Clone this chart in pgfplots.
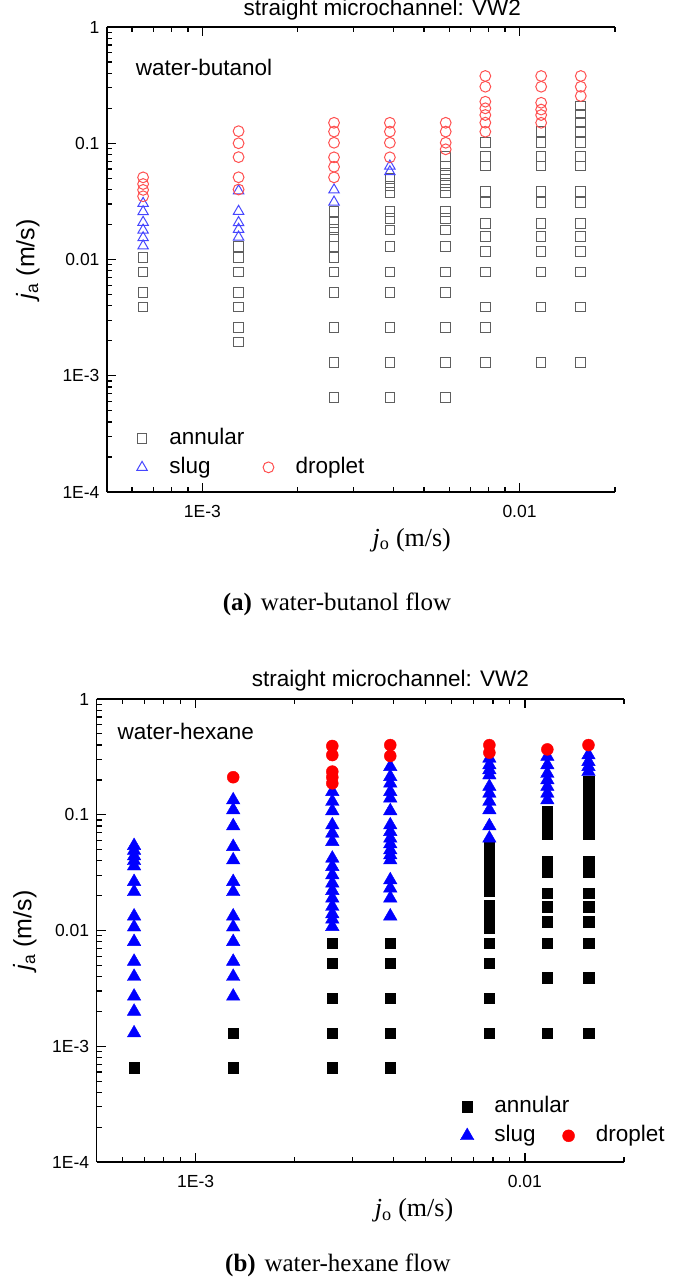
\documentclass[border=0pt]{standalone}
\usepackage{pgfplots}
\pgfplotsset{compat=1.18}
\usepackage{fontspec}
\setmainfont{Liberation Sans}
\newfontfamily\tnr{Liberation Serif}
\newcommand\labsize{\fontsize{22.5bp}{26bp}\selectfont}
\newcommand\ticksize{\fontsize{17.5bp}{20bp}\selectfont}
\newcommand\ylabsize{\fontsize{25bp}{29bp}\selectfont}
\newcommand\xlabsize{\fontsize{26bp}{30bp}\selectfont}
\newcommand\capsize{\fontsize{25bp}{29bp}\selectfont}
\definecolor{agray}{RGB}{95,95,95}
\definecolor{ablue}{RGB}{70,70,255}
\definecolor{ared}{RGB}{255,80,80}
\begin{document}
\begin{tikzpicture}
\useasboundingbox (0bp,0bp) rectangle (685bp,-1277bp);
% ---------------- panel (a)
\begin{axis}[at={(107bp,-492bp)}, anchor=south west, width=508bp, height=465bp,
  scale only axis, xmode=log, ymode=log,
  xmin=5e-4, xmax=0.02, ymin=1e-4, ymax=1,
  axis x line*=box, axis y line*=left,
  axis line style={line width=1.4bp,-},
  xtick={1e-3,1e-2}, xticklabels={1E-3,0.01},
  ytick={1e-4,1e-3,1e-2,1e-1,1}, yticklabels={1E-4,1E-3,0.01,0.1,1},
  minor xtick={5e-4,6e-4,7e-4,8e-4,9e-4,2e-3,3e-3,4e-3,5e-3,6e-3,7e-3,8e-3,9e-3,2e-2},
  minor ytick={2e-4,3e-4,4e-4,5e-4,6e-4,7e-4,8e-4,9e-4,2e-3,3e-3,4e-3,5e-3,6e-3,7e-3,8e-3,9e-3,2e-2,3e-2,4e-2,5e-2,6e-2,7e-2,8e-2,9e-2,0.2,0.3,0.4,0.5,0.6,0.7,0.8,0.9},
  tick align=inside, major tick length=9bp, minor tick length=5bp,
  tick style={black, line width=1.2bp},
  tick label style={font=\ticksize},
  yticklabel style={xshift=-4bp}, xticklabel style={yshift=-10bp},
  clip=false,
  legend columns=2, legend cell align=left,
  legend style={draw=none, fill=none, inner sep=0bp, font=\labsize,
    nodes={inner ysep=3bp, inner xsep=3bp, text height=17.5bp, text depth=5.5bp},
    /tikz/every even column/.append style={column sep=9bp},
    at={(0.0486,0.147)}, anchor=north west},
  title={straight microchannel: VW2},
  title style={font=\labsize, anchor=center, at={(0.542,1.024)}},
  ylabel={\textit{j}\textsubscript{a} (m/s)},
  ylabel style={font=\ylabsize, anchor=center, at={(-0.1555,0.5)}},
  xlabel={\tnr\textit{j}\textsubscript{o} (m/s)},
  xlabel style={font=\xlabsize, anchor=center, at={(0.6,-0.103)}}]
\addplot[only marks, mark=square, mark size=4.8bp, color=agray, mark options={line width=1bp},
  legend image code/.code={\path (0bp,0bp) (34bp,0bp); \draw[agray, line width=1bp] plot[only marks, mark=square, mark size=4.8bp] coordinates {(10bp,0bp)};}] coordinates {
(6.5e-4,0.0104)(6.5e-4,0.0078)(6.5e-4,0.0052)(6.5e-4,0.0039)
(1.3e-3,0.013)(1.3e-3,0.0104)(1.3e-3,0.0078)(1.3e-3,0.0052)(1.3e-3,0.0039)(1.3e-3,0.0026)(1.3e-3,0.00195)
(2.6e-3,0.026)(2.6e-3,0.0208)(2.6e-3,0.0182)(2.6e-3,0.0156)(2.6e-3,0.013)(2.6e-3,0.0104)(2.6e-3,0.0078)(2.6e-3,0.0052)(2.6e-3,0.0026)(2.6e-3,0.0013)(2.6e-3,0.00065)
(3.9e-3,0.050)(3.9e-3,0.043)(3.9e-3,0.0378)(3.9e-3,0.026)(3.9e-3,0.0226)(3.9e-3,0.018)(3.9e-3,0.013)(3.9e-3,0.0078)(3.9e-3,0.0052)(3.9e-3,0.0026)(3.9e-3,0.0013)(3.9e-3,0.00065)
(5.85e-3,0.0766)(5.85e-3,0.0637)(5.85e-3,0.0551)(5.85e-3,0.049)(5.85e-3,0.0431)(5.85e-3,0.0378)(5.85e-3,0.026)(5.85e-3,0.0226)(5.85e-3,0.018)(5.85e-3,0.013)(5.85e-3,0.0078)(5.85e-3,0.0052)(5.85e-3,0.0026)(5.85e-3,0.0013)(5.85e-3,0.00065)
(7.8e-3,0.101)(7.8e-3,0.0766)(7.8e-3,0.0637)(7.8e-3,0.0383)(7.8e-3,0.0308)(7.8e-3,0.0205)(7.8e-3,0.0157)(7.8e-3,0.0117)(7.8e-3,0.0078)(7.8e-3,0.0039)(7.8e-3,0.0026)(7.8e-3,0.0013)
(1.17e-2,0.126)(1.17e-2,0.101)(1.17e-2,0.0766)(1.17e-2,0.0637)(1.17e-2,0.0383)(1.17e-2,0.0308)(1.17e-2,0.0205)(1.17e-2,0.0157)(1.17e-2,0.0117)(1.17e-2,0.0078)(1.17e-2,0.0039)(1.17e-2,0.0013)
(1.56e-2,0.209)(1.56e-2,0.1785)(1.56e-2,0.150)(1.56e-2,0.126)(1.56e-2,0.101)(1.56e-2,0.0766)(1.56e-2,0.0637)(1.56e-2,0.0383)(1.56e-2,0.0308)(1.56e-2,0.0205)(1.56e-2,0.0157)(1.56e-2,0.0117)(1.56e-2,0.0078)(1.56e-2,0.0039)(1.56e-2,0.0013)
};
\addlegendentry{\makebox[77bp][l]{annular}}
\addlegendimage{empty legend}\addlegendentry{}
\addplot[only marks, mark=triangle, mark size=6bp, color=ablue, mark options={line width=1bp},
  legend image code/.code={\path (0bp,0bp) (34bp,0bp); \draw[ablue, line width=1bp] plot[only marks, mark=triangle, mark size=6bp] coordinates {(10bp,0bp)};}] coordinates {
(6.5e-4,0.0304)(6.5e-4,0.0258)(6.5e-4,0.0209)(6.5e-4,0.0179)(6.5e-4,0.0154)(6.5e-4,0.0131)
(1.3e-3,0.039)(1.3e-3,0.026)(1.3e-3,0.0208)(1.3e-3,0.0182)(1.3e-3,0.0156)
(2.6e-3,0.0397)(2.6e-3,0.0312)
(3.9e-3,0.0637)(3.9e-3,0.0569)
};
\addlegendentry{slug}
\addplot[only marks, mark=o, mark size=5.4bp, color=ared, mark options={line width=1bp},
  legend image code/.code={\path (0bp,0bp) (34bp,0bp); \draw[ared, line width=1bp] plot[only marks, mark=o, mark size=5.4bp] coordinates {(10bp,0bp)};}] coordinates {
(6.5e-4,0.0509)(6.5e-4,0.0446)(6.5e-4,0.0397)(6.5e-4,0.035)
(1.3e-3,0.127)(1.3e-3,0.1)(1.3e-3,0.076)(1.3e-3,0.051)(1.3e-3,0.04)
(2.6e-3,0.150)(2.6e-3,0.126)(2.6e-3,0.101)(2.6e-3,0.0757)(2.6e-3,0.0628)(2.6e-3,0.0509)
(3.9e-3,0.150)(3.9e-3,0.126)(3.9e-3,0.101)(3.9e-3,0.0757)
(5.85e-3,0.150)(5.85e-3,0.126)(5.85e-3,0.101)(5.85e-3,0.0887)
(7.8e-3,0.379)(7.8e-3,0.3065)(7.8e-3,0.2277)(7.8e-3,0.1998)(7.8e-3,0.175)(7.8e-3,0.1504)(7.8e-3,0.1257)
(1.17e-2,0.379)(1.17e-2,0.3065)(1.17e-2,0.223)(1.17e-2,0.195)(1.17e-2,0.175)(1.17e-2,0.150)
(1.56e-2,0.379)(1.56e-2,0.3065)(1.56e-2,0.255)
};
\addlegendentry{droplet}
\node[font=\labsize, anchor=west] at (axis description cs:0.050,0.912) {water-butanol};
\end{axis}
\node[font=\capsize\tnr] at (337bp,-604bp) {\textbf{(a)}\hspace{0.35em}water-butanol flow};
% ---------------- panel (b)
\begin{axis}[at={(96.6bp,-1162bp)}, anchor=south west, width=527.4bp, height=463bp,
  scale only axis, xmode=log, ymode=log,
  xmin=5e-4, xmax=0.02, ymin=1e-4, ymax=1,
  axis x line*=box, axis y line*=left,
  axis line style={line width=1.4bp,-},
  xtick={1e-3,1e-2}, xticklabels={1E-3,0.01},
  ytick={1e-4,1e-3,1e-2,1e-1,1}, yticklabels={1E-4,1E-3,0.01,0.1,1},
  minor xtick={5e-4,6e-4,7e-4,8e-4,9e-4,2e-3,3e-3,4e-3,5e-3,6e-3,7e-3,8e-3,9e-3,2e-2},
  minor ytick={2e-4,3e-4,4e-4,5e-4,6e-4,7e-4,8e-4,9e-4,2e-3,3e-3,4e-3,5e-3,6e-3,7e-3,8e-3,9e-3,2e-2,3e-2,4e-2,5e-2,6e-2,7e-2,8e-2,9e-2,0.2,0.3,0.4,0.5,0.6,0.7,0.8,0.9},
  tick align=inside, major tick length=9bp, minor tick length=5bp,
  tick style={black, line width=1.2bp},
  tick label style={font=\ticksize},
  yticklabel style={xshift=-4bp}, xticklabel style={yshift=-10bp},
  clip=false,
  legend columns=2, legend cell align=left,
  legend style={draw=none, fill=none, inner sep=0bp, font=\labsize,
    nodes={inner ysep=3bp, inner xsep=3bp, text height=17.5bp, text depth=5.5bp},
    /tikz/every even column/.append style={column sep=9bp},
    at={(0.683,0.151)}, anchor=north west},
  title={straight microchannel: VW2},
  title style={font=\labsize, anchor=center, at={(0.557,1.027)}},
  ylabel={\textit{j}\textsubscript{a} (m/s)},
  ylabel style={font=\ylabsize, anchor=center, at={(-0.136,0.5)}},
  xlabel={\tnr\textit{j}\textsubscript{o} (m/s)},
  xlabel style={font=\xlabsize, anchor=center, at={(0.602,-0.104)}}]
\addplot[only marks, mark=square*, mark size=5.3bp, color=black,
  legend image code/.code={\path (0bp,0bp) (34bp,0bp); \fill[black] plot[only marks, mark=square*, mark size=5.3bp] coordinates {(10bp,0bp)};}] coordinates {
(6.5e-4,0.00065)
(1.3e-3,0.0013)(1.3e-3,0.00065)
(2.6e-3,0.0078)(2.6e-3,0.0052)(2.6e-3,0.0026)(2.6e-3,0.0013)(2.6e-3,0.00065)
(3.9e-3,0.0078)(3.9e-3,0.0052)(3.9e-3,0.0026)(3.9e-3,0.0013)(3.9e-3,0.00065)
(7.8e-3,0.0527)(7.8e-3,0.0477)(7.8e-3,0.0431)(7.8e-3,0.0391)(7.8e-3,0.0354)(7.8e-3,0.032)(7.8e-3,0.0262)(7.8e-3,0.0219)(7.8e-3,0.0166)(7.8e-3,0.0147)(7.8e-3,0.0131)(7.8e-3,0.0105)(7.8e-3,0.0078)(7.8e-3,0.0052)(7.8e-3,0.0026)(7.8e-3,0.0013)
(1.17e-2,0.106)(1.17e-2,0.087)(1.17e-2,0.0769)(1.17e-2,0.068)(1.17e-2,0.0393)(1.17e-2,0.0322)(1.17e-2,0.021)(1.17e-2,0.016)(1.17e-2,0.0119)(1.17e-2,0.0078)(1.17e-2,0.0039)(1.17e-2,0.0013)
(1.56e-2,0.192)(1.56e-2,0.164)(1.56e-2,0.140)(1.56e-2,0.119)(1.56e-2,0.106)(1.56e-2,0.087)(1.56e-2,0.0769)(1.56e-2,0.068)(1.56e-2,0.0393)(1.56e-2,0.0322)(1.56e-2,0.021)(1.56e-2,0.016)(1.56e-2,0.0119)(1.56e-2,0.0078)(1.56e-2,0.0039)(1.56e-2,0.0013)
};
\addlegendentry{\makebox[52bp][l]{annular}}
\addlegendimage{empty legend}\addlegendentry{}
\addplot[only marks, mark=triangle*, mark size=7.8bp, color=blue,
  legend image code/.code={\path (0bp,0bp) (34bp,0bp); \fill[blue] plot[only marks, mark=triangle*, mark size=7.8bp] coordinates {(10bp,0bp)};}] coordinates {
(6.5e-4,0.054)(6.5e-4,0.049)(6.5e-4,0.044)(6.5e-4,0.040)(6.5e-4,0.036)(6.5e-4,0.0264)(6.5e-4,0.0216)(6.5e-4,0.0133)(6.5e-4,0.0107)(6.5e-4,0.0080)(6.5e-4,0.0054)(6.5e-4,0.0040)(6.5e-4,0.0027)(6.5e-4,0.0020)(6.5e-4,0.0013)
(1.3e-3,0.134)(1.3e-3,0.110)(1.3e-3,0.080)(1.3e-3,0.053)(1.3e-3,0.0406)(1.3e-3,0.0264)(1.3e-3,0.0216)(1.3e-3,0.0133)(1.3e-3,0.0107)(1.3e-3,0.008)(1.3e-3,0.0054)(1.3e-3,0.004)(1.3e-3,0.0027)
(2.6e-3,0.158)(2.6e-3,0.130)(2.6e-3,0.108)(2.6e-3,0.0815)(2.6e-3,0.0691)(2.6e-3,0.0585)(2.6e-3,0.042)(2.6e-3,0.0356)(2.6e-3,0.0302)(2.6e-3,0.0256)(2.6e-3,0.0221)(2.6e-3,0.019)(2.6e-3,0.0161)(2.6e-3,0.0139)(2.6e-3,0.0125)(2.6e-3,0.0108)
(3.9e-3,0.26)(3.9e-3,0.213)(3.9e-3,0.187)(3.9e-3,0.158)(3.9e-3,0.139)(3.9e-3,0.108)(3.9e-3,0.0815)(3.9e-3,0.0714)(3.9e-3,0.0626)(3.9e-3,0.0559)(3.9e-3,0.0496)(3.9e-3,0.0449)(3.9e-3,0.0406)(3.9e-3,0.0273)(3.9e-3,0.0232)(3.9e-3,0.019)(3.9e-3,0.0133)
(7.8e-3,0.307)(7.8e-3,0.269)(7.8e-3,0.244)(7.8e-3,0.220)(7.8e-3,0.175)(7.8e-3,0.153)(7.8e-3,0.130)(7.8e-3,0.110)(7.8e-3,0.080)(7.8e-3,0.0626)
(1.17e-2,0.318)(1.17e-2,0.269)(1.17e-2,0.227)(1.17e-2,0.200)(1.17e-2,0.175)(1.17e-2,0.153)(1.17e-2,0.134)
(1.56e-2,0.328)(1.56e-2,0.287)(1.56e-2,0.26)(1.56e-2,0.236)
};
\addlegendentry{slug}
\addplot[only marks, mark=*, mark size=6bp, color=red,
  legend image code/.code={\path (0bp,0bp) (34bp,0bp); \fill[red] plot[only marks, mark=*, mark size=6bp] coordinates {(10bp,0bp)};}] coordinates {
(1.3e-3,0.211)
(2.6e-3,0.393)(2.6e-3,0.328)(2.6e-3,0.236)(2.6e-3,0.211)(2.6e-3,0.187)
(3.9e-3,0.40)(3.9e-3,0.322)
(7.8e-3,0.40)(7.8e-3,0.344)
(1.17e-2,0.367)
(1.56e-2,0.40)
};
\addlegendentry{droplet}
\node[font=\labsize, anchor=west] at (axis description cs:0.033,0.929) {water-hexane};
\end{axis}
\node[font=\capsize\tnr] at (338bp,-1265bp) {\textbf{(b)}\hspace{0.35em}water-hexane flow};
\end{tikzpicture}
\end{document}
